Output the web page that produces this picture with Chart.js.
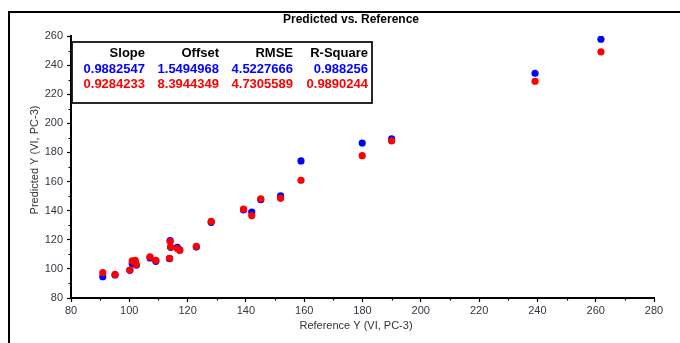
<!DOCTYPE html>
<html>
<head>
<meta charset="utf-8">
<script src="https://cdn.jsdelivr.net/npm/chart.js@4.4.1/dist/chart.umd.min.js"></script>
<style>
  html, body { margin: 0; padding: 0; background: #fff; }
  #wrap { width: 680px; height: 343px; position: relative; }
</style>
</head>
<body>
<div id="wrap"><canvas id="c" width="680" height="343"></canvas></div>
<script>
// ---- data ----
const referenceY = [90.9, 95.1, 100.2, 101.0, 102.0, 102.4, 107.1, 109.1, 114.0, 114.2, 113.8, 116.5, 117.3, 123.0, 128.1, 139.2, 142.0, 145.1, 151.9, 158.9, 179.9, 190.0, 239.2, 261.8];
const predictedBlue = [94.6, 95.8, 99.0, 103.5, 105.0, 102.5, 107.5, 105.2, 119.5, 114.8, 107.0, 114.8, 113.0, 115.0, 132.0, 140.5, 139.1, 147.5, 150.1, 174.2, 186.5, 189.3, 234.4, 257.8];
const predictedRed  = [97.4, 96.2, 99.2, 105.5, 105.8, 103.0, 108.2, 105.8, 118.8, 115.0, 107.3, 114.0, 112.8, 115.5, 132.6, 141.0, 136.6, 148.2, 148.5, 160.9, 177.8, 187.9, 228.9, 249.1];
const xTickLabels = [80, 100, 120, 140, 160, 180, 200, 220, 240, 260, 280];
const yTickLabels = [80, 100, 120, 140, 160, 180, 200, 220, 240, 260];
const statHeaders = ["Slope", "Offset", "RMSE", "R-Square"];
const statsBlue = ["0.9882547", "1.5494968", "4.5227666", "0.988256"];
const statsRed  = ["0.9284233", "8.3944349", "4.7305589", "0.9890244"];
const chartTitle = "Predicted vs. Reference";
const xTitle = "Reference Y (VI, PC-3)";
const yTitle = "Predicted Y (VI, PC-3)";

const FONT = "'Liberation Sans', Arial, sans-serif";
const TICK_COLOR = '#3a3340';

const overlay = {
  id: 'overlay',
  beforeDraw(chart) {
    const ctx = chart.ctx;
    ctx.save();
    ctx.strokeStyle = '#000';
    ctx.lineWidth = 2;
    ctx.beginPath();
    ctx.moveTo(9, 343);
    ctx.lineTo(9, 12);
    ctx.lineTo(680, 12);
    ctx.stroke();
    ctx.restore();
  },
  afterDraw(chart) {
    const ctx = chart.ctx;
    const xs = chart.scales.x, ys = chart.scales.y;
    const ca = chart.chartArea;
    ctx.save();
    // minor ticks
    ctx.strokeStyle = '#000';
    ctx.lineWidth = 1.2;
    ctx.beginPath();
    for (let i = 0; i < xTickLabels.length - 1; i++) {
      const v = (xTickLabels[i] + xTickLabels[i + 1]) / 2;
      const p = Math.round(xs.getPixelForValue(v)) + 0.5;
      ctx.moveTo(p, ca.bottom);
      ctx.lineTo(p, ca.bottom + 2.5);
    }
    for (let i = 0; i < yTickLabels.length - 1; i++) {
      const v = (yTickLabels[i] + yTickLabels[i + 1]) / 2;
      const p = Math.round(ys.getPixelForValue(v)) + 0.5;
      ctx.moveTo(ca.left, p);
      ctx.lineTo(ca.left - 2.5, p);
    }
    ctx.stroke();

    // chart title
    ctx.fillStyle = '#000';
    ctx.font = "bold 12px " + FONT;
    ctx.textAlign = 'center';
    ctx.textBaseline = 'middle';
    ctx.fillText(chartTitle, 351, 20);

    // axis titles
    ctx.fillStyle = '#333';
    ctx.font = "11px " + FONT;
    ctx.fillText(xTitle, 356, 326);
    ctx.save();
    ctx.translate(35, 160);
    ctx.rotate(-Math.PI / 2);
    ctx.fillText(yTitle, 0, 0);
    ctx.restore();

    // stats box
    const bx = ca.left + 1, by = 42, bw = 372 - bx, bh = 103 - 42;
    ctx.fillStyle = '#fff';
    ctx.fillRect(bx, by, bw, bh);
    ctx.strokeStyle = '#111';
    ctx.lineWidth = 1.8;
    ctx.strokeRect(bx, by, bw, bh);
    const colRight = [145, 219, 293, 368];
    ctx.font = "bold 13px " + FONT;
    ctx.textAlign = 'right';
    ctx.textBaseline = 'middle';
    const rows = [[statHeaders, '#000', 53], [statsBlue, '#0000ff', 69], [statsRed, '#ff0000', 84]];
    rows.forEach(([arr, col, y]) => {
      ctx.fillStyle = col;
      arr.forEach((t, i) => ctx.fillText(t, colRight[i], y));
    });
    ctx.restore();
  }
};

const toPts = (ys) => referenceY.map((x, i) => ({ x, y: ys[i] }));

new Chart(document.getElementById('c'), {
  type: 'scatter',
  data: {
    datasets: [
      { label: 'Blue', data: toPts(predictedBlue), backgroundColor: '#0000ff', borderColor: '#0000ff', pointRadius: 3.6, pointBorderWidth: 0, order: 2 },
      { label: 'Red', data: toPts(predictedRed), backgroundColor: '#ff0000', borderColor: '#ff0000', pointRadius: 3.6, pointBorderWidth: 0, order: 1 }
    ]
  },
  options: {
    responsive: false,
    animation: false,
    events: [],
    layout: { padding: { left: 0, top: 36, right: 26, bottom: 0 } },
    plugins: { legend: { display: false }, title: { display: false }, tooltip: { enabled: false } },
    scales: {
      x: {
        type: 'linear',
        min: xTickLabels[0], max: xTickLabels[xTickLabels.length - 1],
        afterBuildTicks: (s) => { s.ticks = xTickLabels.map(v => ({ value: v })); },
        ticks: { color: TICK_COLOR, font: { size: 11, family: FONT }, padding: 2, maxRotation: 0, autoSkip: false },
        grid: { drawOnChartArea: false, drawTicks: true, tickLength: 4, tickColor: '#000', tickWidth: 1.2 },
        border: { display: true, color: '#000', width: 2 },
        afterFit: (s) => { s.height = 45; }
      },
      y: {
        type: 'linear',
        min: yTickLabels[0], max: yTickLabels[yTickLabels.length - 1],
        afterBuildTicks: (s) => { s.ticks = yTickLabels.map(v => ({ value: v })); },
        ticks: { color: TICK_COLOR, font: { size: 11, family: FONT }, padding: 4, autoSkip: false },
        grid: { drawOnChartArea: false, drawTicks: true, tickLength: 4, tickColor: '#000', tickWidth: 1.2 },
        border: { display: true, color: '#000', width: 2 },
        afterFit: (s) => { s.width = 71; }
      }
    }
  },
  plugins: [overlay]
});
</script>
</body>
</html>
